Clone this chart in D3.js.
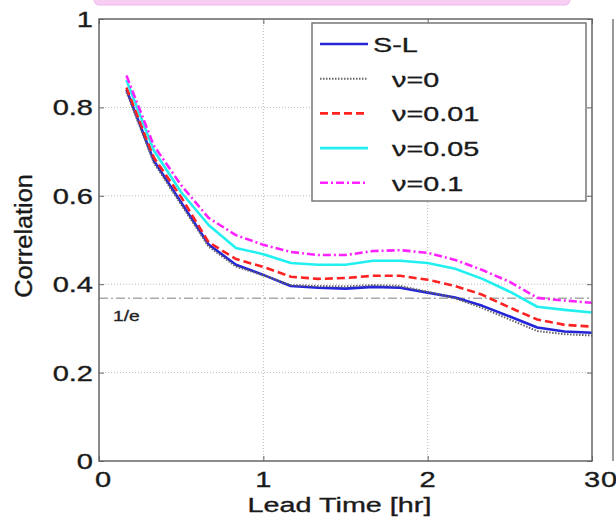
<!DOCTYPE html>
<html><head><meta charset="utf-8">
<script src="https://cdn.jsdelivr.net/npm/d3@7"></script>
<style>html,body{margin:0;padding:0;background:#fff;}svg{display:block;}</style>
</head><body>
<script>
const leadTime = [0.167,0.333,0.5,0.667,0.833,1.0,1.167,1.333,1.5,1.667,1.833,2.0,2.167,2.333,2.5,2.667,2.833,3.0];
const sl    = [0.84,0.68,0.585,0.49,0.444,0.421,0.396,0.392,0.39,0.394,0.392,0.381,0.37,0.351,0.327,0.302,0.293,0.29];
const nu0   = [0.835,0.675,0.58,0.485,0.44,0.42,0.398,0.396,0.395,0.398,0.396,0.383,0.368,0.346,0.32,0.294,0.287,0.284];
const nu001 = [0.845,0.687,0.597,0.495,0.457,0.439,0.417,0.412,0.414,0.419,0.419,0.41,0.396,0.376,0.347,0.32,0.308,0.304];
const nu005 = [0.862,0.703,0.608,0.534,0.482,0.468,0.448,0.444,0.444,0.453,0.453,0.448,0.435,0.412,0.383,0.349,0.342,0.336];
const nu01  = [0.872,0.714,0.624,0.55,0.511,0.489,0.473,0.466,0.466,0.475,0.477,0.471,0.455,0.432,0.405,0.369,0.363,0.358];
const seriesNames = ["S-L","\u03bd=0","\u03bd=0.01","\u03bd=0.05","\u03bd=0.1"];
const xTicks = [0,1,2,3];
const yTicks = [0,0.2,0.4,0.6,0.8,1];
const yTickLabels = ["0","0.2","0.4","0.6","0.8","1"];
const xTickLabels = ["0","1","2","3"];
const invE = 0.368;

const W=616,H=527;
const L=99,R=592,T=19,B=461;
const SX=1.37;
const FONT="'Liberation Sans', Arial, sans-serif";
const svg=d3.select("body").append("svg").attr("width",W).attr("height",H);
const x=d3.scaleLinear().domain([0,3]).range([L,R]);
const y=d3.scaleLinear().domain([0,1]).range([B,T]);

// pink caption remnant on top
svg.append("rect").attr("x",94).attr("y",-8).attr("width",476).attr("height",13).attr("rx",5)
  .attr("fill","#f7cdf3").attr("stroke","#f0b8ec").attr("stroke-width",1);

// neighbour subplot edge
svg.append("line").attr("x1",613).attr("x2",613).attr("y1",T).attr("y2",B).attr("stroke","#777").attr("stroke-width",1.5);

// grid
const g=svg.append("g");
g.selectAll(".gx").data(xTicks.filter(d=>d>0&&d<3)).join("line")
  .attr("x1",d=>x(d)).attr("x2",d=>x(d)).attr("y1",T).attr("y2",B)
  .attr("stroke","#bbb").attr("stroke-width",1).attr("stroke-dasharray","1,2");
g.selectAll(".gy").data(yTicks.filter(d=>d>0&&d<1)).join("line")
  .attr("x1",L).attr("x2",R).attr("y1",d=>y(d)).attr("y2",d=>y(d))
  .attr("stroke","#bbb").attr("stroke-width",1).attr("stroke-dasharray","1,2");

// 1/e line
svg.append("line").attr("x1",L).attr("x2",R).attr("y1",y(invE)).attr("y2",y(invE))
  .attr("stroke","#aaa").attr("stroke-width",1.5).attr("stroke-dasharray","9,3,2,3");
svg.append("text").attr("transform",`translate(${L+14},${y(invE)+23}) scale(${SX},1)`)
  .attr("font-family",FONT).attr("font-size",14).attr("fill","#222").attr("stroke","#222").attr("stroke-width",0.3).text("1/e");

// axes ticks (inward)
const axG=svg.append("g").attr("color","#666");
axG.append("g").attr("transform",`translate(0,${B})`).call(d3.axisBottom(x).tickValues(xTicks).tickSize(-5).tickFormat("")).call(s=>s.select(".domain").remove());
axG.append("g").attr("transform",`translate(0,${T})`).call(d3.axisTop(x).tickValues(xTicks).tickSize(-5).tickFormat("")).call(s=>s.select(".domain").remove());
axG.append("g").attr("transform",`translate(${L},0)`).call(d3.axisLeft(y).tickValues(yTicks).tickSize(-5).tickFormat("")).call(s=>s.select(".domain").remove());
axG.append("g").attr("transform",`translate(${R},0)`).call(d3.axisRight(y).tickValues(yTicks).tickSize(-5).tickFormat("")).call(s=>s.select(".domain").remove());

// series
const line=d3.line().x((d,i)=>x(leadTime[i])).y(d=>y(d));
const styles=[
  {data:sl,color:"#2424d8",dash:null,w:2.6},
  {data:nu0,color:"#666",dash:"1.5,1.5",w:2},
  {data:nu001,color:"#ff2222",dash:"8,4",w:2.6},
  {data:nu005,color:"#22f0f0",dash:null,w:2.6},
  {data:nu01,color:"#ff22ff",dash:"8,3,2,3",w:2.6}
];
svg.append("clipPath").attr("id","plotclip").append("rect").attr("x",L).attr("y",T).attr("width",R-L).attr("height",B-T);
styles.forEach(s=>{
  svg.append("path").attr("d",line(s.data)).attr("fill","none").attr("stroke",s.color)
    .attr("stroke-width",s.w).attr("stroke-dasharray",s.dash).attr("stroke-linejoin","round")
    .attr("clip-path","url(#plotclip)");
});

// axes box
svg.append("rect").attr("x",L).attr("y",T).attr("width",R-L).attr("height",B-T)
  .attr("fill","none").attr("stroke","#666").attr("stroke-width",1.5);

const txt=(sel)=>sel.attr("font-family",FONT).attr("fill","#1a1a1a").attr("stroke","#1a1a1a").attr("stroke-width",0.35);

// tick labels
svg.selectAll(".yl").data(yTicks).join("text")
  .attr("transform",(d)=>`translate(${L-6},${y(d)+8}) scale(${1.32},1)`)
  .attr("text-anchor","end").attr("font-size",22).call(txt)
  .text((d,i)=>yTickLabels[i]);
svg.selectAll(".xl").data(xTicks).join("text")
  .attr("transform",(d)=>`translate(${x(d)+(d===0?4:0)},${B+26}) scale(${1.32},1)`)
  .attr("text-anchor","middle").attr("font-size",22).call(txt)
  .text((d,i)=>xTickLabels[i]);
// neighbour subplot's first x label
svg.append("text").attr("transform",`translate(609,${B+26}) scale(1.32,1)`)
  .attr("text-anchor","middle").attr("font-size",22).call(txt).text("0");

// axis titles
svg.append("text").attr("transform",`translate(${(L+R)/2-6},${B+51}) scale(${SX},1)`)
  .attr("text-anchor","middle").attr("font-size",21).call(txt).text("Lead Time [hr]");
svg.append("text").attr("transform",`translate(32,236) rotate(-90) scale(1.1,1.05)`)
  .attr("text-anchor","middle").attr("font-size",23).call(txt).text("Correlation");

// legend
const LX=312,LY=23,LW=274,LH=178;
svg.append("clipPath").attr("id","legclip").append("rect").attr("x",LX).attr("y",LY).attr("width",LW).attr("height",LH);
const lg=svg.append("g");
lg.append("rect").attr("x",LX).attr("y",LY).attr("width",LW).attr("height",LH).attr("fill","#fff");
const legRows=[...styles.map((s,i)=>({s,name:seriesNames[i]})),{s:null,name:"\u03bd=0.5"}];
const lgc=lg.append("g").attr("clip-path","url(#legclip)");
legRows.forEach((r,i)=>{
  const cy=LY+21+i*34.7;
  if(r.s){
    lgc.append("line").attr("x1",LX+8).attr("x2",LX+56).attr("y1",cy).attr("y2",cy)
      .attr("stroke",r.s.color).attr("stroke-width",r.s.w).attr("stroke-dasharray",r.s.dash);
  }
  lgc.append("text").attr("transform",`translate(${i===0?LX+61:LX+80},${cy+8}) scale(${SX},1)`)
    .attr("font-size",21).call(txt).text(r.name);
});
lg.append("rect").attr("x",LX).attr("y",LY).attr("width",LW).attr("height",LH)
  .attr("fill","none").attr("stroke","#777").attr("stroke-width",1.5);
</script>
</body></html>
